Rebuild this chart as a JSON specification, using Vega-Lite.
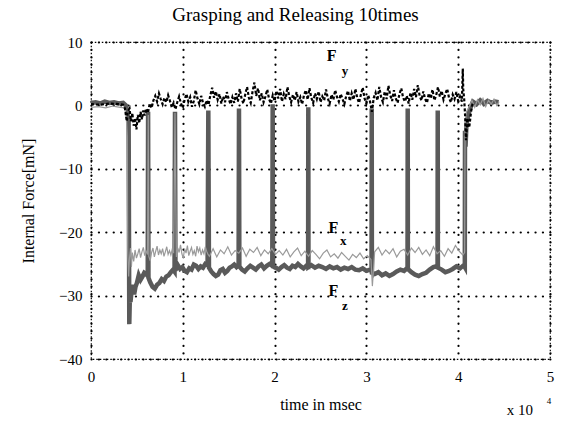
{
  "$schema": "https://vega.github.io/schema/vega-lite/v6.json",
  "width": 459,
  "height": 317,
  "autosize": {"type": "none"},
  "padding": {"left": 91, "top": 42, "right": 16, "bottom": 62},
  "background": "white",
  "config": {
    "font": "Liberation Serif",
    "view": {"stroke": "black", "strokeWidth": 1.2, "strokeDash": [1.5, 2]}
  },
  "title": {
    "text": "Grasping and Releasing 10times",
    "font": "Liberation Serif",
    "fontSize": 19,
    "fontWeight": "normal",
    "color": "black",
    "anchor": "middle",
    "dx": -25,
    "offset": 10
  },
  "datasets": {
    "fz": [
      {"t": 0, "v": 0.4}, {"t": 500, "v": 0.5}, {"t": 1000, "v": 0.3}, {"t": 1500, "v": 0.6}, {"t": 2000, "v": 0.4},
      {"t": 2500, "v": 0.5}, {"t": 3000, "v": 0.3}, {"t": 3500, "v": 0.4}, {"t": 3800, "v": 0.0}, {"t": 3950, "v": -1.0},
      {"t": 4100, "v": -2.5}, {"t": 4170, "v": -34.5}, {"t": 4230, "v": -30.5}, {"t": 4300, "v": -31}, {"t": 4400, "v": -29.5},
      {"t": 4550, "v": -28.3}, {"t": 4700, "v": -29.8}, {"t": 4850, "v": -28.6}, {"t": 5000, "v": -28}, {"t": 5200, "v": -26.8},
      {"t": 5400, "v": -27.5}, {"t": 5600, "v": -27.0}, {"t": 5800, "v": -26.4}, {"t": 6000, "v": -26.6}, {"t": 6180, "v": -26.9},
      {"t": 6220, "v": -1.0}, {"t": 6260, "v": -27.2}, {"t": 6450, "v": -27.9}, {"t": 6700, "v": -28.6}, {"t": 6950, "v": -28.9},
      {"t": 7200, "v": -28.3}, {"t": 7450, "v": -28.0}, {"t": 7700, "v": -27.4}, {"t": 7950, "v": -27.7}, {"t": 8200, "v": -27.0},
      {"t": 8450, "v": -26.8}, {"t": 8700, "v": -26.3}, {"t": 8950, "v": -25.9}, {"t": 9100, "v": -26.2}, {"t": 9150, "v": -1.0},
      {"t": 9200, "v": -26.0}, {"t": 9450, "v": -25.2}, {"t": 9700, "v": -25.8}, {"t": 9950, "v": -25.5}, {"t": 10200, "v": -26.1},
      {"t": 10450, "v": -26.3}, {"t": 10700, "v": -25.7}, {"t": 10950, "v": -25.9}, {"t": 11200, "v": -25.1}, {"t": 11450, "v": -25.3},
      {"t": 11700, "v": -25.8}, {"t": 11950, "v": -25.4}, {"t": 12200, "v": -25.6}, {"t": 12450, "v": -25.0}, {"t": 12700, "v": -25.2},
      {"t": 12780, "v": -0.8}, {"t": 12850, "v": -25.6}, {"t": 13100, "v": -26.2}, {"t": 13350, "v": -26.6}, {"t": 13600, "v": -26.9},
      {"t": 13850, "v": -26.7}, {"t": 14100, "v": -26.0}, {"t": 14350, "v": -25.8}, {"t": 14600, "v": -26.4}, {"t": 14850, "v": -26.1},
      {"t": 15100, "v": -25.6}, {"t": 15350, "v": -25.4}, {"t": 15600, "v": -25.1}, {"t": 15850, "v": -25.5}, {"t": 16080, "v": -25.2},
      {"t": 16120, "v": -0.5}, {"t": 16160, "v": -25.4}, {"t": 16450, "v": -25.9}, {"t": 16750, "v": -26.2}, {"t": 17050, "v": -25.7},
      {"t": 17350, "v": -25.3}, {"t": 17650, "v": -25.6}, {"t": 17950, "v": -25.9}, {"t": 18250, "v": -25.4}, {"t": 18550, "v": -25.1},
      {"t": 18850, "v": -25.7}, {"t": 19150, "v": -25.3}, {"t": 19450, "v": -25.0}, {"t": 19750, "v": -25.3}, {"t": 19790, "v": 0.2},
      {"t": 19830, "v": -25.4}, {"t": 20150, "v": -25.6}, {"t": 20450, "v": -25.9}, {"t": 20750, "v": -25.5}, {"t": 21050, "v": -25.2},
      {"t": 21350, "v": -25.6}, {"t": 21650, "v": -25.8}, {"t": 21950, "v": -25.3}, {"t": 22250, "v": -25.5}, {"t": 22550, "v": -25.0},
      {"t": 22850, "v": -25.4}, {"t": 23150, "v": -25.7}, {"t": 23450, "v": -25.3}, {"t": 23650, "v": -25.4}, {"t": 23670, "v": -0.3},
      {"t": 23690, "v": -25.5}, {"t": 24000, "v": -25.2}, {"t": 24400, "v": -25.6}, {"t": 24800, "v": -25.3}, {"t": 25200, "v": -25.5},
      {"t": 25600, "v": -25.8}, {"t": 26000, "v": -25.4}, {"t": 26400, "v": -25.7}, {"t": 26800, "v": -25.5}, {"t": 27200, "v": -25.9},
      {"t": 27600, "v": -25.6}, {"t": 28000, "v": -25.8}, {"t": 28400, "v": -25.5}, {"t": 28800, "v": -25.9}, {"t": 29200, "v": -26.0},
      {"t": 29600, "v": -25.7}, {"t": 30000, "v": -26.1}, {"t": 30400, "v": -25.9}, {"t": 30560, "v": -26.2}, {"t": 30580, "v": -0.5},
      {"t": 30600, "v": -26.4}, {"t": 30900, "v": -26.6}, {"t": 31300, "v": -26.3}, {"t": 31700, "v": -26.8}, {"t": 32100, "v": -26.5},
      {"t": 32500, "v": -26.9}, {"t": 32900, "v": -26.6}, {"t": 33300, "v": -26.2}, {"t": 33700, "v": -25.9}, {"t": 34100, "v": -26.1},
      {"t": 34480, "v": -25.6}, {"t": 34500, "v": -0.5}, {"t": 34520, "v": -25.8}, {"t": 34900, "v": -26.3}, {"t": 35300, "v": -26.7},
      {"t": 35700, "v": -26.9}, {"t": 36100, "v": -26.6}, {"t": 36500, "v": -26.4}, {"t": 36900, "v": -25.9}, {"t": 37300, "v": -25.5},
      {"t": 37750, "v": -25.3}, {"t": 37770, "v": -0.8}, {"t": 37790, "v": -25.6}, {"t": 38200, "v": -25.9}, {"t": 38600, "v": -26.3},
      {"t": 39000, "v": -26.1}, {"t": 39400, "v": -25.8}, {"t": 39800, "v": -25.4}, {"t": 40200, "v": -25.7}, {"t": 40600, "v": -25.2},
      {"t": 40720, "v": -25.5}, {"t": 40740, "v": -4.0}, {"t": 40800, "v": -6.5}, {"t": 40900, "v": -3.0}, {"t": 41100, "v": -1.5},
      {"t": 41300, "v": -0.5}, {"t": 41600, "v": 0.6}, {"t": 42000, "v": 0.2}, {"t": 42400, "v": 0.8}, {"t": 42800, "v": 0.3},
      {"t": 43200, "v": 0.7}, {"t": 43600, "v": 0.4}, {"t": 44000, "v": 0.6}, {"t": 44400, "v": 0.5}
    ],
    "fx": [
      {"t": 0, "v": -0.3}, {"t": 800, "v": -0.2}, {"t": 1600, "v": -0.4}, {"t": 2400, "v": -0.1}, {"t": 3200, "v": -0.3},
      {"t": 3700, "v": -0.4}, {"t": 3850, "v": -2}, {"t": 3950, "v": -5}, {"t": 4000, "v": -23}, {"t": 4100, "v": -27},
      {"t": 4200, "v": -24}, {"t": 4300, "v": -22.5}, {"t": 4400, "v": -25.5}, {"t": 4500, "v": -23.2}, {"t": 4650, "v": -24.6},
      {"t": 4800, "v": -22.8}, {"t": 4950, "v": -24.1}, {"t": 5100, "v": -23.4}, {"t": 5250, "v": -22.6}, {"t": 5400, "v": -24.0},
      {"t": 5550, "v": -23.1}, {"t": 5700, "v": -22.4}, {"t": 5850, "v": -23.7}, {"t": 6000, "v": -23.0}, {"t": 6150, "v": -23.5},
      {"t": 6240, "v": -1.5}, {"t": 6300, "v": -23.8}, {"t": 6450, "v": -24.5}, {"t": 6600, "v": -23.2}, {"t": 6750, "v": -22.5},
      {"t": 6900, "v": -23.9}, {"t": 7050, "v": -23.0}, {"t": 7200, "v": -22.2}, {"t": 7350, "v": -23.6}, {"t": 7500, "v": -22.8},
      {"t": 7650, "v": -23.4}, {"t": 7800, "v": -22.6}, {"t": 7950, "v": -23.8}, {"t": 8100, "v": -23.1}, {"t": 8250, "v": -22.3},
      {"t": 8400, "v": -23.5}, {"t": 8550, "v": -22.9}, {"t": 8700, "v": -23.6}, {"t": 8850, "v": -22.7}, {"t": 9000, "v": -23.3},
      {"t": 9150, "v": -1.2}, {"t": 9300, "v": -23.9}, {"t": 9450, "v": -22.5}, {"t": 9600, "v": -23.2}, {"t": 9750, "v": -22.0},
      {"t": 9900, "v": -23.4}, {"t": 10050, "v": -24.1}, {"t": 10200, "v": -22.6}, {"t": 10350, "v": -23.3}, {"t": 10500, "v": -22.1},
      {"t": 10650, "v": -23.7}, {"t": 10800, "v": -23.0}, {"t": 10950, "v": -22.4}, {"t": 11100, "v": -23.5}, {"t": 11250, "v": -22.9},
      {"t": 11400, "v": -23.8}, {"t": 11550, "v": -22.2}, {"t": 11700, "v": -23.1}, {"t": 11850, "v": -22.5}, {"t": 12000, "v": -23.6},
      {"t": 12150, "v": -22.8}, {"t": 12300, "v": -23.4}, {"t": 12450, "v": -22.3}, {"t": 12600, "v": -23.0}, {"t": 12750, "v": -23.5},
      {"t": 12900, "v": -23.8}, {"t": 13300, "v": -22.6}, {"t": 13700, "v": -23.9}, {"t": 14100, "v": -22.8}, {"t": 14500, "v": -23.4},
      {"t": 14900, "v": -22.3}, {"t": 15300, "v": -23.6}, {"t": 15700, "v": -22.9}, {"t": 16100, "v": -23.3}, {"t": 16500, "v": -22.5},
      {"t": 16900, "v": -23.8}, {"t": 17300, "v": -22.7}, {"t": 17700, "v": -23.2}, {"t": 18100, "v": -22.4}, {"t": 18500, "v": -23.7},
      {"t": 18900, "v": -22.8}, {"t": 19300, "v": -23.4}, {"t": 19700, "v": -22.6}, {"t": 20100, "v": -23.5}, {"t": 20500, "v": -22.9},
      {"t": 20900, "v": -23.6}, {"t": 21300, "v": -22.7}, {"t": 21700, "v": -23.9}, {"t": 22100, "v": -23.1}, {"t": 22500, "v": -22.5},
      {"t": 22900, "v": -23.7}, {"t": 23300, "v": -23.0}, {"t": 23700, "v": -23.8}, {"t": 24100, "v": -22.9}, {"t": 24500, "v": -23.5},
      {"t": 24900, "v": -24.2}, {"t": 25300, "v": -23.3}, {"t": 25700, "v": -22.8}, {"t": 26100, "v": -23.9}, {"t": 26500, "v": -23.4},
      {"t": 26900, "v": -24.1}, {"t": 27300, "v": -23.2}, {"t": 27700, "v": -23.8}, {"t": 28100, "v": -24.4}, {"t": 28500, "v": -23.5},
      {"t": 28900, "v": -24.0}, {"t": 29300, "v": -23.3}, {"t": 29700, "v": -24.2}, {"t": 30100, "v": -23.7}, {"t": 30500, "v": -24.3},
      {"t": 30650, "v": -28.5}, {"t": 30900, "v": -23.1}, {"t": 31300, "v": -22.4}, {"t": 31700, "v": -23.6}, {"t": 32100, "v": -22.8},
      {"t": 32500, "v": -23.4}, {"t": 32900, "v": -22.6}, {"t": 33300, "v": -23.9}, {"t": 33700, "v": -23.0}, {"t": 34100, "v": -22.7},
      {"t": 34500, "v": -23.6}, {"t": 34900, "v": -22.5}, {"t": 35300, "v": -23.2}, {"t": 35700, "v": -22.4}, {"t": 36100, "v": -23.5},
      {"t": 36500, "v": -22.8}, {"t": 36900, "v": -23.7}, {"t": 37300, "v": -22.3}, {"t": 37700, "v": -23.4}, {"t": 38100, "v": -22.9},
      {"t": 38500, "v": -23.8}, {"t": 38900, "v": -22.6}, {"t": 39300, "v": -23.3}, {"t": 39700, "v": -22.1}, {"t": 40100, "v": -23.0},
      {"t": 40500, "v": -23.6}, {"t": 40700, "v": -23.2}, {"t": 40750, "v": -3}, {"t": 40900, "v": -1.0}, {"t": 41200, "v": -0.2},
      {"t": 41500, "v": 0.8}, {"t": 41800, "v": -0.3}, {"t": 42100, "v": 0.9}, {"t": 42400, "v": 0.1}, {"t": 42700, "v": 1.1},
      {"t": 43000, "v": -0.2}, {"t": 43300, "v": 0.8}, {"t": 43600, "v": 0.2}, {"t": 43900, "v": 1.0}, {"t": 44200, "v": 0.0},
      {"t": 44450, "v": 0.6}
    ],
    "fy": [
      {"t": 0, "v": 0.2}, {"t": 1000, "v": 0.1}, {"t": 2000, "v": 0.3}, {"t": 3000, "v": 0.2}, {"t": 3500, "v": 0.1},
      {"t": 3700, "v": -0.5}, {"t": 3900, "v": -2.5}, {"t": 4000, "v": -1.0}, {"t": 4200, "v": -0.5}, {"t": 4350, "v": -2.5},
      {"t": 4500, "v": -1.2}, {"t": 4650, "v": -3.2}, {"t": 4800, "v": -2.0}, {"t": 4950, "v": -3.8}, {"t": 5100, "v": -1.5},
      {"t": 5250, "v": -2.8}, {"t": 5400, "v": -1.0}, {"t": 5550, "v": -2.2}, {"t": 5700, "v": -0.8}, {"t": 5850, "v": -1.6},
      {"t": 6000, "v": -0.5}, {"t": 6200, "v": -1.2}, {"t": 6400, "v": 0.3}, {"t": 6600, "v": -0.4}, {"t": 6800, "v": 0.8},
      {"t": 7000, "v": 1.5}, {"t": 7200, "v": 0.6}, {"t": 7400, "v": 1.9}, {"t": 7600, "v": 1.0}, {"t": 7800, "v": 0.2},
      {"t": 8000, "v": 1.2}, {"t": 8200, "v": 0.5}, {"t": 8400, "v": 1.6}, {"t": 8600, "v": 0.7}, {"t": 8800, "v": -0.3},
      {"t": 9000, "v": 0.4}, {"t": 9200, "v": -0.6}, {"t": 9400, "v": 0.5}, {"t": 9600, "v": 1.4}, {"t": 9800, "v": 0.3},
      {"t": 10000, "v": -0.4}, {"t": 10200, "v": 0.9}, {"t": 10400, "v": 1.8}, {"t": 10600, "v": 0.6}, {"t": 10800, "v": 1.3},
      {"t": 11000, "v": -0.2}, {"t": 11200, "v": 0.7}, {"t": 11400, "v": 2.4}, {"t": 11600, "v": 1.1}, {"t": 11800, "v": 0.2},
      {"t": 12000, "v": 1.5}, {"t": 12200, "v": 0.4}, {"t": 12400, "v": -0.2}, {"t": 12600, "v": 0.8}, {"t": 12800, "v": 0.1},
      {"t": 13000, "v": 1.6}, {"t": 13200, "v": 2.8}, {"t": 13400, "v": 1.2}, {"t": 13600, "v": 2.2}, {"t": 13800, "v": 0.9},
      {"t": 14000, "v": 1.8}, {"t": 14200, "v": 0.3}, {"t": 14400, "v": 1.4}, {"t": 14600, "v": 0.5}, {"t": 14800, "v": 2.1},
      {"t": 15000, "v": 1.0}, {"t": 15200, "v": 0.2}, {"t": 15400, "v": 1.3}, {"t": 15600, "v": 0.4}, {"t": 15800, "v": 1.9},
      {"t": 16000, "v": 0.6}, {"t": 16200, "v": 2.6}, {"t": 16400, "v": 1.1}, {"t": 16600, "v": 0.3}, {"t": 16800, "v": 1.7},
      {"t": 17000, "v": 2.9}, {"t": 17200, "v": 1.2}, {"t": 17400, "v": 0.4}, {"t": 17600, "v": 2.2}, {"t": 17800, "v": 3.6},
      {"t": 18000, "v": 1.5}, {"t": 18200, "v": 2.7}, {"t": 18400, "v": 0.8}, {"t": 18600, "v": 1.9}, {"t": 18800, "v": 0.5},
      {"t": 19000, "v": 1.4}, {"t": 19200, "v": 2.5}, {"t": 19400, "v": 1.0}, {"t": 19600, "v": 0.3}, {"t": 19800, "v": 1.6},
      {"t": 20000, "v": 0.7}, {"t": 20200, "v": 2.3}, {"t": 20400, "v": 1.1}, {"t": 20600, "v": 2.6}, {"t": 20800, "v": 0.6},
      {"t": 21000, "v": 1.8}, {"t": 21200, "v": 1.0}, {"t": 21400, "v": 2.9}, {"t": 21600, "v": 1.4}, {"t": 21800, "v": 0.5},
      {"t": 22000, "v": 1.7}, {"t": 22200, "v": 0.8}, {"t": 22400, "v": 2.1}, {"t": 22600, "v": 0.6}, {"t": 22800, "v": 1.3},
      {"t": 23000, "v": 0.2}, {"t": 23200, "v": 1.6}, {"t": 23400, "v": 2.4}, {"t": 23600, "v": 0.9}, {"t": 23800, "v": 2.7},
      {"t": 24000, "v": 1.2}, {"t": 24200, "v": 0.4}, {"t": 24400, "v": 1.9}, {"t": 24600, "v": 1.0}, {"t": 24800, "v": 2.2},
      {"t": 25000, "v": 0.5}, {"t": 25200, "v": 1.4}, {"t": 25400, "v": 0.8}, {"t": 25600, "v": 2.5}, {"t": 25800, "v": 1.1},
      {"t": 26000, "v": 0.3}, {"t": 26200, "v": 1.7}, {"t": 26400, "v": 0.9}, {"t": 26600, "v": 2.4}, {"t": 26800, "v": 1.3},
      {"t": 27000, "v": 0.6}, {"t": 27200, "v": 1.8}, {"t": 27400, "v": 1.0}, {"t": 27600, "v": 0.2}, {"t": 27800, "v": 1.5},
      {"t": 28000, "v": 2.3}, {"t": 28200, "v": 0.7}, {"t": 28400, "v": 1.9}, {"t": 28600, "v": 0.9}, {"t": 28800, "v": 2.6},
      {"t": 29000, "v": 1.2}, {"t": 29200, "v": 0.4}, {"t": 29400, "v": 1.7}, {"t": 29600, "v": 2.8}, {"t": 29800, "v": 1.1},
      {"t": 30000, "v": 0.3}, {"t": 30200, "v": 1.6}, {"t": 30400, "v": 0.6}, {"t": 30600, "v": -1.0}, {"t": 30800, "v": 1.2},
      {"t": 31000, "v": 2.0}, {"t": 31200, "v": 0.8}, {"t": 31400, "v": 2.9}, {"t": 31600, "v": 1.3}, {"t": 31800, "v": 0.5},
      {"t": 32000, "v": 2.2}, {"t": 32200, "v": 1.0}, {"t": 32400, "v": 3.1}, {"t": 32600, "v": 1.6}, {"t": 32800, "v": 0.7},
      {"t": 33000, "v": 2.4}, {"t": 33200, "v": 1.1}, {"t": 33400, "v": 0.4}, {"t": 33600, "v": 1.8}, {"t": 33800, "v": 2.7},
      {"t": 34000, "v": 1.2}, {"t": 34200, "v": 0.6}, {"t": 34400, "v": 1.5}, {"t": 34600, "v": 0.3}, {"t": 34800, "v": 2.0},
      {"t": 35000, "v": 0.9}, {"t": 35200, "v": 2.6}, {"t": 35400, "v": 1.3}, {"t": 35600, "v": 3.2}, {"t": 35800, "v": 1.5},
      {"t": 36000, "v": 0.8}, {"t": 36200, "v": 2.2}, {"t": 36400, "v": 1.0}, {"t": 36600, "v": 0.4}, {"t": 36800, "v": 1.9},
      {"t": 37000, "v": 1.1}, {"t": 37200, "v": 2.5}, {"t": 37400, "v": 0.8}, {"t": 37600, "v": 1.6}, {"t": 37800, "v": 2.9},
      {"t": 38000, "v": 1.4}, {"t": 38200, "v": 2.3}, {"t": 38400, "v": 0.9}, {"t": 38600, "v": 1.8}, {"t": 38800, "v": 2.6},
      {"t": 39000, "v": 1.2}, {"t": 39200, "v": 0.5}, {"t": 39400, "v": 1.7}, {"t": 39600, "v": 1.0}, {"t": 39800, "v": 2.1},
      {"t": 40000, "v": 0.7}, {"t": 40200, "v": 1.4}, {"t": 40400, "v": 0.6}, {"t": 40500, "v": 5.8}, {"t": 40550, "v": 2.5},
      {"t": 40650, "v": 1.0}, {"t": 40750, "v": -1.5}, {"t": 40850, "v": -5.5}, {"t": 41000, "v": -2.0}, {"t": 41200, "v": -3.5},
      {"t": 41400, "v": -1.0}, {"t": 41600, "v": 0.5}
    ],
    "bigLabels": [
      {"t": 26220, "v": 7.8, "label": "F"},
      {"t": 26400, "v": -19.3, "label": "F"},
      {"t": 26400, "v": -29.3, "label": "F"}
    ],
    "subLabels": [
      {"t": 27670, "v": 5.4, "label": "y"},
      {"t": 27480, "v": -21.4, "label": "x"},
      {"t": 27670, "v": -31.7, "label": "z"}
    ],
    "scaleNote": [
      {"t": 46730, "v": -48.0, "label": "x 10"}
    ],
    "scaleExp": [
      {"t": 49890, "v": -46.6, "label": "4"}
    ]
  },
  "encoding": {
    "x": {
      "field": "t",
      "type": "quantitative",
      "scale": {"domain": [0, 50000], "nice": false, "zero": false},
      "axis": {
        "values": [0, 10000, 20000, 30000, 40000, 50000],
        "labelExpr": "datum.value / 10000",
        "title": "time in msec",
        "domain": false,
        "ticks": false,
        "grid": true,
        "gridColor": "black",
        "gridOpacity": 1,
        "gridWidth": 2.2,
        "gridCap": "round",
        "gridDash": [0.1, 7.3],
        "labelFont": "Liberation Serif",
        "labelFontSize": 15,
        "labelColor": "black",
        "labelPadding": 10,
        "labelFlush": false,
        "titleFont": "Liberation Serif",
        "titleFontSize": 16,
        "titleFontWeight": "normal",
        "titleColor": "black",
        "titlePadding": 12
      }
    },
    "y": {
      "field": "v",
      "type": "quantitative",
      "scale": {"domain": [-40, 10], "nice": false, "zero": false},
      "axis": {
        "values": [-40, -30, -20, -10, 0, 10],
        "title": "Internal Force[mN]",
        "domain": false,
        "ticks": false,
        "grid": true,
        "gridColor": "black",
        "gridOpacity": 1,
        "gridWidth": 2.2,
        "gridCap": "round",
        "gridDash": [0.1, 7.3],
        "labelFont": "Liberation Serif",
        "labelFontSize": 15,
        "labelColor": "black",
        "labelPadding": 9,
        "labelFlush": false,
        "titleFont": "Liberation Serif",
        "titleFontSize": 16,
        "titleFontWeight": "normal",
        "titleColor": "black",
        "titlePadding": 22
      }
    }
  },
  "layer": [
    {
      "data": {"name": "fz"},
      "mark": {"type": "line", "color": "#5a5a5a", "strokeWidth": 4.5, "strokeJoin": "miter"},
      "encoding": {}
    },
    {
      "data": {"name": "fx"},
      "mark": {"type": "line", "color": "#9a9a9a", "strokeWidth": 1.2},
      "encoding": {}
    },
    {
      "data": {"name": "fy"},
      "mark": {"type": "line", "color": "black", "strokeWidth": 2.2, "strokeDash": [3, 2]},
      "encoding": {}
    },
    {
      "data": {"name": "bigLabels"},
      "mark": {"type": "text", "font": "Liberation Serif", "fontSize": 16, "fontWeight": "bold", "color": "black", "align": "center", "baseline": "middle"},
      "encoding": {"text": {"field": "label"}}
    },
    {
      "data": {"name": "subLabels"},
      "mark": {"type": "text", "font": "Liberation Serif", "fontSize": 13, "fontWeight": "bold", "color": "black", "align": "center", "baseline": "middle"},
      "encoding": {"text": {"field": "label"}}
    },
    {
      "data": {"name": "scaleNote"},
      "mark": {"type": "text", "font": "Liberation Serif", "fontSize": 15, "color": "black", "align": "center", "baseline": "middle"},
      "encoding": {"text": {"field": "label"}}
    },
    {
      "data": {"name": "scaleExp"},
      "mark": {"type": "text", "font": "Liberation Serif", "fontSize": 9, "color": "black", "align": "center", "baseline": "middle"},
      "encoding": {"text": {"field": "label"}}
    }
  ]
}
